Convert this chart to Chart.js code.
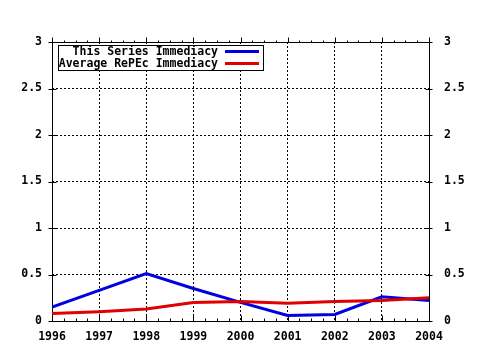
<!DOCTYPE html>
<html>
<head>
<meta charset="utf-8">
<script src="https://cdn.jsdelivr.net/npm/chart.js@4/dist/chart.umd.min.js"></script>
<style>
  html, body { margin: 0; padding: 0; background: #fff; }
  #wrap { width: 480px; height: 350px; }
</style>
</head>
<body>
<div id="wrap"><canvas id="immediacyChart" width="480" height="350"></canvas></div>
<script>
// values
const years = [1996, 1997, 1998, 1999, 2000, 2001, 2002, 2003, 2004];
const thisSeries = [0.15, 0.33, 0.51, 0.35, 0.20, 0.06, 0.07, 0.26, 0.22];
const averageRepec = [0.08, 0.10, 0.13, 0.20, 0.21, 0.19, 0.21, 0.22, 0.25];
const yTickValues = [0, 0.5, 1, 1.5, 2, 2.5, 3];
const seriesNames = ['This Series Immediacy', 'Average RePEc Immediacy'];

const blue = '#0000e0';
const red = '#e00000';
const fontSpec = { family: "'DejaVu Sans Mono', monospace", size: 11.5, weight: 'bold' };

function toPoints(vals) {
  return vals.map((v, i) => ({ x: years[i], y: v }));
}

// border, small ticks and the boxed key, gnuplot style
const gnuplotFrame = {
  id: 'gnuplotFrame',
  beforeDatasetsDraw(chart) {
    const ctx = chart.ctx;
    const a = chart.chartArea;
    const xs = chart.scales.x;
    const ys = chart.scales.y;
    const L = Math.round(a.left) + 0.5, R = Math.round(a.right) + 0.5;
    const T = Math.round(a.top) + 0.5, B = Math.round(a.bottom) + 0.5;
    ctx.save();
    ctx.strokeStyle = '#000';
    ctx.lineWidth = 1;
    ctx.setLineDash([]);
    ctx.strokeRect(L, T, R - L, B - T);
    ctx.beginPath();
    // x ticks, majors and quarter minors
    for (let i = 0; i < years.length; i++) {
      for (let q = 0; q < 4; q++) {
        if (i === years.length - 1 && q > 0) break;
        const px = Math.round(xs.getPixelForValue(years[i] + q / 4)) + 0.5;
        const len = q === 0 ? 6 : 3;
        ctx.moveTo(px, B); ctx.lineTo(px, B - len);
        ctx.moveTo(px, T); ctx.lineTo(px, T - (q === 0 ? 5 : 2));
      }
    }
    // y ticks both sides
    yTickValues.forEach(v => {
      const py = Math.round(ys.getPixelForValue(v)) + 0.5;
      ctx.moveTo(L - 4, py); ctx.lineTo(L + 4, py);
      ctx.moveTo(R - 4, py); ctx.lineTo(R + 3, py);
    });
    ctx.stroke();
    ctx.restore();
  },
  afterDatasetsDraw(chart) {
    const ctx = chart.ctx;
    const boxL = 58.5, boxT = 45.5, boxW = 205, boxH = 25;
    ctx.save();
    ctx.fillStyle = '#fff';
    ctx.fillRect(boxL, boxT, boxW, boxH);
    ctx.strokeStyle = '#000';
    ctx.lineWidth = 1;
    ctx.strokeRect(boxL, boxT, boxW, boxH);
    ctx.font = 'bold 11.5px "DejaVu Sans Mono", monospace';
    ctx.textAlign = 'right';
    ctx.textBaseline = 'middle';
    ctx.fillStyle = '#000';
    chart.data.datasets.forEach((ds, i) => {
      const rowY = 52 + i * 12;
      ctx.fillText(ds.label, 218, rowY);
      ctx.strokeStyle = ds.borderColor;
      ctx.lineWidth = 3;
      ctx.beginPath();
      ctx.moveTo(225, rowY - 0.5);
      ctx.lineTo(259, rowY - 0.5);
      ctx.stroke();
    });
    ctx.restore();
  }
};

function yLabel(v) {
  return String(v);
}

const ctx = document.getElementById('immediacyChart').getContext('2d');
const chart = new Chart(ctx, {
  type: 'line',
  data: {
    datasets: [
      {
        label: seriesNames[0],
        data: toPoints(thisSeries),
        borderColor: blue,
        borderWidth: 3,
        pointRadius: 0,
        tension: 0,
        order: 2
      },
      {
        label: seriesNames[1],
        data: toPoints(averageRepec),
        borderColor: red,
        borderWidth: 3,
        pointRadius: 0,
        tension: 0,
        order: 1
      }
    ]
  },
  options: {
    responsive: false,
    animation: false,
    devicePixelRatio: 1,
    layout: { padding: { top: 42, left: 0, right: 0, bottom: 0 } },
    plugins: { legend: { display: false }, tooltip: { enabled: false } },
    scales: {
      x: {
        type: 'linear',
        min: 1996,
        max: 2004,
        afterFit(s) { s.height = 29; },
        afterBuildTicks(s) { s.ticks = years.map(v => ({ value: v })); },
        ticks: {
          color: '#000',
          font: fontSpec,
          padding: 9,
          maxRotation: 0,
          autoSkip: false,
          callback: v => String(v)
        },
        grid: { color: '#000', lineWidth: 1, drawTicks: false },
        border: { display: false, dash: [2, 2] }
      },
      y: {
        position: 'left',
        min: 0,
        max: 3,
        afterFit(s) { s.width = 52; },
        afterBuildTicks(s) { s.ticks = yTickValues.map(v => ({ value: v })); },
        ticks: { color: '#000', font: fontSpec, padding: 10, callback: yLabel },
        grid: { color: '#000', lineWidth: 1, drawTicks: false },
        border: { display: false, dash: [2, 2] }
      },
      y2: {
        position: 'right',
        min: 0,
        max: 3,
        afterFit(s) { s.width = 51; },
        afterBuildTicks(s) { s.ticks = yTickValues.map(v => ({ value: v })); },
        ticks: { color: '#000', font: fontSpec, padding: 15, callback: yLabel },
        grid: { display: false, drawTicks: false },
        border: { display: false }
      }
    }
  },
  plugins: [gnuplotFrame]
});
</script>
</body>
</html>
